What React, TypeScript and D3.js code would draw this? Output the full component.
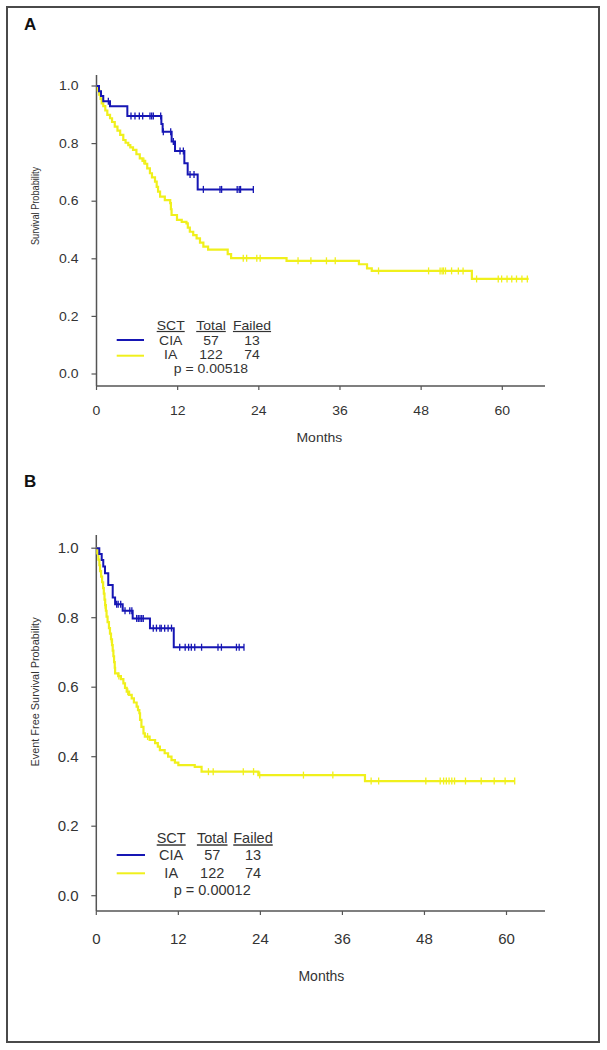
import React from "react";
import * as d3 from "d3";

// ---------- data ----------
const monthTicks = [0, 12, 24, 36, 48, 60];
const probTicks = [0, 0.2, 0.4, 0.6, 0.8, 1.0];
const groupNames = ["CIA", "IA"];
const groupTotals = [57, 122];
const groupFailed = [13, 74];
const legendHeaders = ["SCT", "Total", "Failed"];
const pValueA = "p = 0.00518";
const pValueB = "p = 0.00012";
const yLabelA = "Survival Probability";
const yLabelB = "Event Free Survival Probability";
const xLabel = "Months";

// Panel A – survival, CIA
const osCiaTimes = [0, 0.37, 0.67, 1.0, 2.0, 4.56, 9.59, 9.78, 11.11, 11.61, 12.99, 13.48, 14.96];
const osCiaSurv = [1.0, 0.982, 0.965, 0.947, 0.93, 0.896, 0.868, 0.841, 0.807, 0.774, 0.732, 0.693, 0.641];
const osCiaCensor = [1.75, 5.1, 5.69, 6.33, 6.83, 7.91, 8.16, 8.4, 9.49, 9.88, 10.97, 11.36, 12.35, 12.84, 13.83, 14.42, 15.8, 18.26, 18.5, 20.8, 21.1, 21.3, 23.19];
const osCiaEnd = 23.19;

// Panel A – survival, IA
const osIaTimes = [0, 0.2, 0.4, 0.6, 0.77, 1.0, 1.3, 1.6, 2.0, 2.3, 2.7, 3.1, 3.5, 3.96, 4.3, 4.7, 5.0, 5.4, 5.9, 6.4, 6.8, 7.2, 7.5, 7.9, 8.2, 8.65, 8.9, 9.1, 9.4, 10.1, 10.9, 11.0, 11.1, 11.9, 12.6, 13.3, 13.5, 13.8, 14.3, 14.8, 15.3, 15.8, 16.5, 19.4, 19.9, 28.1, 38.8, 40.0, 40.7, 55.5];
const osIaSurv = [1.0, 0.985, 0.97, 0.955, 0.94, 0.93, 0.915, 0.9, 0.888, 0.875, 0.859, 0.845, 0.83, 0.8125, 0.803, 0.795, 0.787, 0.778, 0.763, 0.749, 0.74, 0.73, 0.714, 0.697, 0.683, 0.668, 0.65, 0.633, 0.616, 0.604, 0.593, 0.572, 0.552, 0.535, 0.528, 0.523, 0.508, 0.494, 0.482, 0.471, 0.456, 0.442, 0.432, 0.416, 0.402, 0.393, 0.381, 0.367, 0.358, 0.33];
const osIaCensor = [7.0, 21.7, 22.2, 23.7, 24.2, 29.8, 31.7, 34.0, 35.3, 41.7, 49.1, 50.8, 51.1, 51.3, 51.6, 52.5, 53.5, 54.2, 56.2, 59.4, 59.9, 60.7, 61.4, 62.1, 62.9, 63.7];
const osIaEnd = 63.9;

// Panel B – event free survival, CIA
const efsCiaTimes = [0, 0.44, 0.79, 1.02, 1.27, 1.75, 2.4, 2.75, 3.86, 5.32, 7.85, 11.33];
const efsCiaSurv = [1.0, 0.983, 0.966, 0.947, 0.928, 0.894, 0.858, 0.839, 0.82, 0.798, 0.77, 0.715];
const efsCiaCensor = [2.98, 3.2, 3.57, 4.2, 4.9, 5.2, 5.9, 6.14, 6.39, 6.64, 6.87, 8.33, 8.8, 9.3, 9.5, 10.0, 10.5, 11.0, 12.2, 13.0, 13.5, 13.9, 14.4, 15.4, 17.8, 18.3, 20.5, 20.9, 21.6];
const efsCiaEnd = 21.6;

// Panel B – event free survival, IA
const efsIaTimes = [0, 0.15, 0.3, 0.45, 0.55, 0.7, 0.85, 1.0, 1.1, 1.2, 1.3, 1.4, 1.5, 1.65, 1.85, 2.0, 2.15, 2.3, 2.4, 2.5, 2.6, 2.7, 2.75, 3.2, 3.6, 3.96, 4.2, 4.45, 4.8, 5.18, 5.5, 5.9, 6.1, 6.3, 6.4, 6.6, 6.9, 7.1, 7.8, 8.6, 9.0, 9.3, 10.0, 10.5, 11.0, 11.5, 12.0, 14.4, 15.4, 23.7, 39.3];
const efsIaSurv = [1.0, 0.985, 0.967, 0.951, 0.934, 0.918, 0.902, 0.885, 0.869, 0.852, 0.836, 0.82, 0.803, 0.787, 0.77, 0.754, 0.738, 0.721, 0.705, 0.689, 0.672, 0.656, 0.64, 0.632, 0.623, 0.611, 0.598, 0.587, 0.578, 0.568, 0.556, 0.544, 0.534, 0.525, 0.506, 0.486, 0.467, 0.458, 0.448, 0.439, 0.429, 0.419, 0.41, 0.4, 0.39, 0.383, 0.376, 0.371, 0.357, 0.347, 0.33];
const efsIaCensor = [1.3, 2.2, 3.3, 4.6, 7.5, 16.4, 17.1, 21.5, 23.0, 23.9, 30.3, 34.6, 40.2, 41.3, 48.2, 50.3, 50.8, 51.2, 51.6, 52.0, 52.4, 54.0, 56.3, 58.2, 59.8, 61.2];
const efsIaEnd = 61.2;

// ---------- styles ----------
const BLUE = "#1616b4";
const YELLOW = "#f0f01c";
const AXIS = "#555";
const TEXT = "#333";
const FONT = "Arial, 'Liberation Sans', Helvetica, sans-serif";

type Curve = { times: number[]; surv: number[]; censor: number[]; end: number; color: string; width: number };

function survAt(c: Curve, t: number) {
  const i = d3.bisectRight(c.times, t) - 1;
  return c.surv[Math.max(0, i)];
}

type Layout = {
  letter: string; letterY: number;
  xRange: [number, number]; yRange: [number, number];
  xAxisEnd: number; yAxisTop: number; yAxisBottom: number;
  sy: number; tickFont: number; xTickBase: number; xLabelBase: number; yTickRight: number;
  yLabel: string; yLabelX: number; yLabelY: number; yLabelScale: number;
  legFont: number;
  legHeadBase: number; legRowBase: number[]; legLineY: number[]; legPBase: number; pText: string;
  legLineX: [number, number]; legCols: number[];
};

function Txt({ x, y, sy, children, anchor = "middle", size = 14, weight = "normal", underline = false }: any) {
  return (
    <text
      transform={`translate(${x},${y}) scale(1,${sy})`}
      textAnchor={anchor}
      fontSize={size}
      fontWeight={weight}
      fill={TEXT}
      fontFamily={FONT}
      style={underline ? { textDecoration: "underline" } : undefined}
    >
      {children}
    </text>
  );
}

function Panel({ L, curves }: { L: Layout; curves: Curve[] }) {
  const x = d3.scaleLinear().domain([0, 60]).range(L.xRange);
  const y = d3.scaleLinear().domain([0, 1]).range(L.yRange);
  const line = d3
    .line<[number, number]>()
    .x((d) => x(d[0]))
    .y((d) => y(d[1]))
    .curve(d3.curveStepAfter);
  const x0 = x(0);
  return (
    <g>
      <text x={24} y={L.letterY} fontSize={17} fontWeight="bold" fontFamily={FONT} fill="#111">
        {L.letter}
      </text>
      {/* axes */}
      <line x1={x0} x2={x0} y1={L.yAxisTop} y2={L.yAxisBottom} stroke={AXIS} strokeWidth={1.5} />
      <line x1={x0} x2={L.xAxisEnd} y1={L.yAxisBottom} y2={L.yAxisBottom} stroke={AXIS} strokeWidth={1.5} />
      {probTicks.map((p) => (
        <g key={"y" + p}>
          <line x1={x0 - 5} x2={x0} y1={y(p)} y2={y(p)} stroke={AXIS} strokeWidth={1.2} />
          <Txt x={L.yTickRight} y={y(p) + 5 * L.sy} sy={L.sy} anchor="end" size={L.tickFont}>
            {p.toFixed(1)}
          </Txt>
        </g>
      ))}
      {monthTicks.map((m) => (
        <g key={"x" + m}>
          <line x1={x(m)} x2={x(m)} y1={L.yAxisBottom} y2={L.yAxisBottom + 4} stroke={AXIS} strokeWidth={1.2} />
          <Txt x={x(m)} y={L.xTickBase} sy={L.sy} size={L.tickFont}>
            {m}
          </Txt>
        </g>
      ))}
      <Txt x={(L.xRange[0] + L.xRange[1]) / 2 + 20} y={L.xLabelBase} sy={L.sy} size={14}>
        {xLabel}
      </Txt>
      <text
        transform={`translate(${L.yLabelX},${L.yLabelY}) rotate(-90) scale(${L.yLabelScale},1)`}
        textAnchor="middle"
        fontSize={11.5}
        fill={TEXT}
        fontFamily={FONT}
      >
        {L.yLabel}
      </text>
      {/* curves */}
      {curves.map((c, i) => {
        const pts: [number, number][] = c.times.map((t, k) => [t, c.surv[k]] as [number, number]);
        pts.push([c.end, c.surv[c.surv.length - 1]]);
        return (
          <g key={"c" + i}>
            <path d={line(pts) || ""} fill="none" stroke={c.color} strokeWidth={c.width} />
            {c.censor.map((t, k) => (
              <line
                key={k}
                x1={x(t)}
                x2={x(t)}
                y1={y(survAt(c, t)) - 3.5}
                y2={y(survAt(c, t)) + 3.5}
                stroke={c.color}
                strokeWidth={1.3}
              />
            ))}
          </g>
        );
      })}
      {/* legend */}
      {legendHeaders.map((h, i) => (
        <Txt key={h} x={L.legCols[i]} y={L.legHeadBase} sy={L.sy} size={L.legFont} underline>
          {h}
        </Txt>
      ))}
      {groupNames.map((g, i) => (
        <g key={g}>
          <line x1={L.legLineX[0]} x2={L.legLineX[1]} y1={L.legLineY[i]} y2={L.legLineY[i]} stroke={i === 0 ? BLUE : YELLOW} strokeWidth={2} />
          <Txt x={L.legCols[0]} y={L.legRowBase[i]} sy={L.sy} size={L.legFont}>{g}</Txt>
          <Txt x={L.legCols[1]} y={L.legRowBase[i]} sy={L.sy} size={L.legFont}>{groupTotals[i]}</Txt>
          <Txt x={L.legCols[2]} y={L.legRowBase[i]} sy={L.sy} size={L.legFont}>{groupFailed[i]}</Txt>
        </g>
      ))}
      <Txt x={L.legCols[1]} y={L.legPBase} sy={L.sy} size={L.legFont}>{L.pText}</Txt>
    </g>
  );
}

const layoutA: Layout = {
  letter: "A", letterY: 30,
  xRange: [96.5, 502.3], yRange: [374, 86],
  xAxisEnd: 545, yAxisTop: 75, yAxisBottom: 386,
  sy: 0.85, tickFont: 14, xTickBase: 415, xLabelBase: 442, yTickRight: 78.5,
  yLabel: yLabelA, yLabelX: 39, yLabelY: 206, yLabelScale: 0.8,
  legFont: 14,
  legHeadBase: 330, legRowBase: [344.5, 359.2], legLineY: [340, 355.7], legPBase: 373, pText: pValueA,
  legLineX: [116.7, 144], legCols: [170.7, 211, 252],
};

const layoutB: Layout = {
  letter: "B", letterY: 487,
  xRange: [96.3, 506.5], yRange: [895.7, 548.2],
  xAxisEnd: 545, yAxisTop: 535, yAxisBottom: 911,
  sy: 1, tickFont: 15, xTickBase: 944, xLabelBase: 981, yTickRight: 78.5,
  yLabel: yLabelB, yLabelX: 39, yLabelY: 692, yLabelScale: 0.95,
  legFont: 14.5,
  legHeadBase: 843.3, legRowBase: [860, 878.3], legLineY: [855, 873.3], legPBase: 895, pText: pValueB,
  legLineX: [116.7, 145], legCols: [171.2, 212.2, 253],
};

const curvesA: Curve[] = [
  { times: osIaTimes, surv: osIaSurv, censor: osIaCensor, end: osIaEnd, color: YELLOW, width: 2.2 },
  { times: osCiaTimes, surv: osCiaSurv, censor: osCiaCensor, end: osCiaEnd, color: BLUE, width: 2 },
];
const curvesB: Curve[] = [
  { times: efsIaTimes, surv: efsIaSurv, censor: efsIaCensor, end: efsIaEnd, color: YELLOW, width: 2.2 },
  { times: efsCiaTimes, surv: efsCiaSurv, censor: efsCiaCensor, end: efsCiaEnd, color: BLUE, width: 2 },
];

export default function App() {
  return (
    <svg
      width={607}
      height={1050}
      style={{ position: "absolute", left: 0, top: 0, background: "#fff" }}
    >
      <rect x={0} y={0} width={607} height={1050} fill="#fff" />
      <rect x={7} y={7} width={592} height={1035} fill="none" stroke="#4a4a4a" strokeWidth={2} />
      <Panel L={layoutA} curves={curvesA} />
      <Panel L={layoutB} curves={curvesB} />
    </svg>
  );
}
